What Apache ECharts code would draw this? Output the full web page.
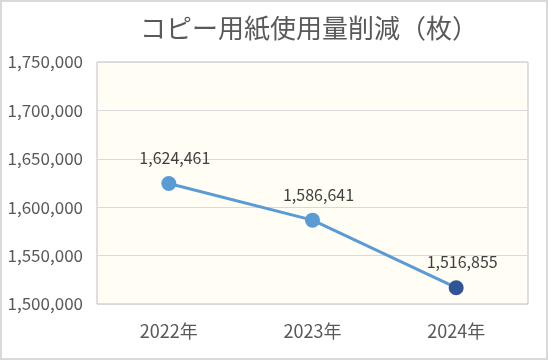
<!DOCTYPE html>
<html><head><meta charset="utf-8">
<script src="https://cdn.jsdelivr.net/npm/echarts@6/dist/echarts.min.js"></script>
<style>
html,body{margin:0;padding:0;background:#fff;}
#c{width:544px;height:356px;border:2px solid #D9D9D9;}
</style></head>
<body><div id="c"></div>
<script>
const categories = ['2022年','2023年','2024年'];
const values = [1624461, 1586641, 1516855];
const yTicks = {min:1500000, max:1750000, interval:50000};
const title = 'コピー用紙使用量削減（枚）';

const chart = echarts.init(document.getElementById('c'));
const font = "'Noto Sans CJK JP','Noto Sans',sans-serif";
chart.setOption({
  animation:false,
  title:{text:title,left:302,top:8,textAlign:'center',
    textStyle:{fontFamily:font,fontSize:26,fontWeight:'normal',color:'#595959'}},
  grid:{left:95,right:18,top:60,bottom:54,show:true,backgroundColor:'#FFFDF4',borderColor:'#BFBFBF',borderWidth:1},
  xAxis:{type:'category',data:categories,boundaryGap:true,
    axisLine:{show:false},axisTick:{show:false},
    axisLabel:{fontFamily:font,fontSize:18,color:'#595959',margin:18}},
  yAxis:{type:'value',min:yTicks.min,max:yTicks.max,interval:yTicks.interval,
    axisLine:{show:false},axisTick:{show:false},
    splitLine:{lineStyle:{color:'#D9D9D9'}},
    axisLabel:{fontFamily:font,fontSize:17,color:'#595959',margin:14,
      formatter:v=>v.toLocaleString('en-US')}},
  series:[{type:'line',
    data:values.map((v,i)=>({value:v,itemStyle:{color:i===values.length-1?'#2F5597':'#5B9BD5'}})),
    symbol:'circle',symbolSize:15,
    lineStyle:{color:'#5B9BD5',width:3},
    label:{show:true,position:'top',distance:10,offset:[6,0],fontFamily:font,fontSize:16,color:'#404040',
      formatter:p=>p.value.toLocaleString('en-US')}}]
});
</script></body></html>
